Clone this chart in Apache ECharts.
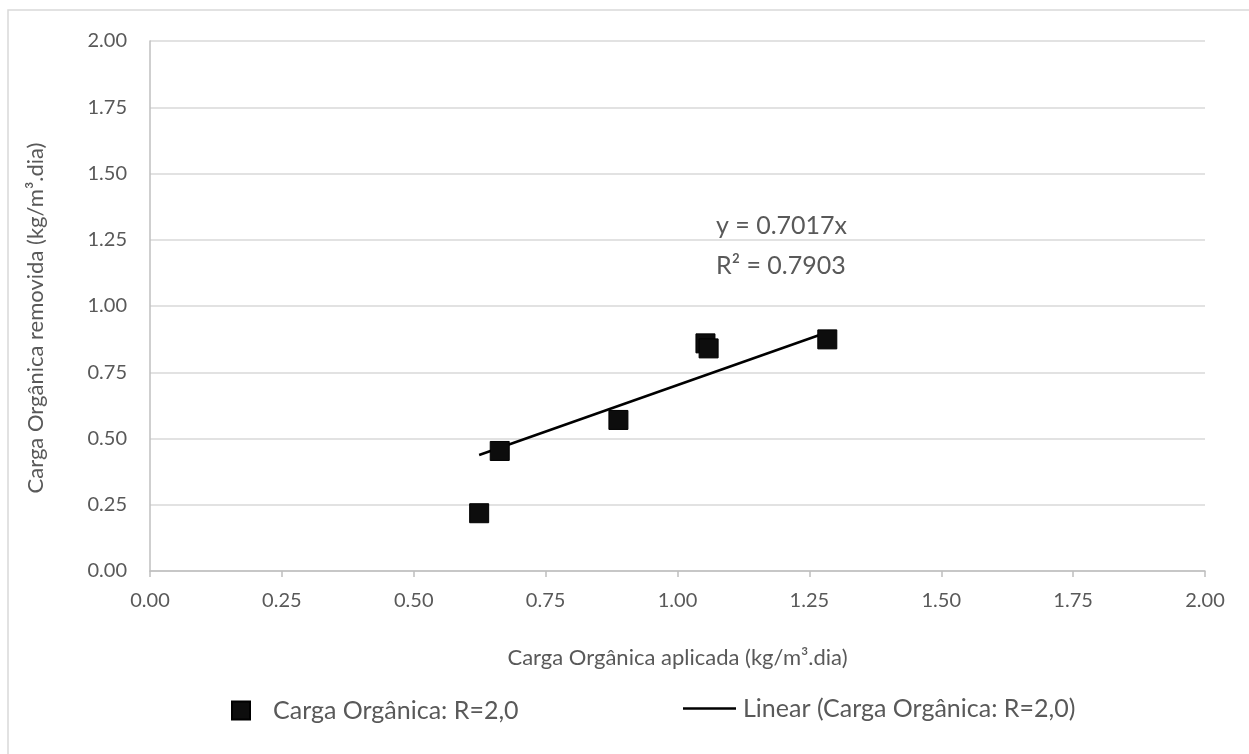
<!DOCTYPE html>
<html>
<head>
<meta charset="utf-8">
<script src="https://cdn.jsdelivr.net/npm/echarts@6/dist/echarts.min.js"></script>
<style>
  html, body { margin: 0; padding: 0; background: #ffffff; }
  #chart { width: 1249px; height: 754px; }
</style>
</head>
<body>
<div id="chart"></div>
<script>
// Applied vs removed organic load, R = 2,0
const appliedLoad = [0.624, 0.663, 0.888, 1.053, 1.059, 1.284];
const removedLoad = [0.218, 0.453, 0.570, 0.859, 0.840, 0.874];
const slope = 0.7017;
const rSquared = 0.7903;
const axisTicks = [0, 0.25, 0.5, 0.75, 1, 1.25, 1.5, 1.75, 2];

const seriesName = 'Carga Orgânica: R=2,0';
const trendName = 'Linear (Carga Orgânica: R=2,0)';

const points = appliedLoad.map((x, i) => [x, removedLoad[i]]);
const xMin = Math.min(...appliedLoad);
const xMax = Math.max(...appliedLoad);
const trend = [[xMin, slope * xMin], [xMax, slope * xMax]];

const FONT = 'Lato, "Open Sans", sans-serif';
const TEXT = '#595959';

const chart = echarts.init(document.getElementById('chart'));
chart.setOption({
  animation: false,
  backgroundColor: '#ffffff',
  grid: { left: 150, right: 44, top: 41, bottom: 183 },
  xAxis: {
    type: 'value',
    min: axisTicks[0],
    max: axisTicks[axisTicks.length - 1],
    interval: 0.25,
    name: 'Carga Orgânica aplicada (kg/m³.dia)',
    nameLocation: 'middle',
    nameGap: 76,
    nameTextStyle: { fontFamily: FONT, fontSize: 22, color: TEXT },
    axisLine: { show: true, lineStyle: { color: '#bfbfbf', width: 1.5 } },
    axisTick: { show: true, length: 6, lineStyle: { color: '#bfbfbf', width: 1.5 } },
    axisLabel: { fontFamily: FONT, fontSize: 20, color: TEXT, margin: 20,
                 formatter: v => v.toFixed(2) },
    splitLine: { show: false }
  },
  yAxis: {
    type: 'value',
    min: axisTicks[0],
    max: axisTicks[axisTicks.length - 1],
    interval: 0.25,
    name: 'Carga Orgânica removida (kg/m³.dia)',
    nameLocation: 'middle',
    nameGap: 103,
    nameTextStyle: { fontFamily: FONT, fontSize: 22, color: TEXT, padding: [0, 24, 0, 0] },
    axisLine: { show: true, lineStyle: { color: '#bfbfbf', width: 1.5 } },
    axisTick: { show: false },
    axisLabel: { fontFamily: FONT, fontSize: 20, color: TEXT, margin: 23,
                 formatter: v => v.toFixed(2) },
    splitLine: { show: true, lineStyle: { color: '#d9d9d9', width: 1.5 } }
  },
  legend: [
    {
      data: [{ name: seriesName, icon: 'rect' }],
      left: 231, top: 698,
      padding: 0,
      itemWidth: 18, itemHeight: 18,
      textStyle: { fontFamily: FONT, fontSize: 25, color: TEXT, padding: [0, 0, 0, 18] }
    },
    {
      data: [{ name: trendName, icon: 'rect', itemStyle: { color: '#000000' } }],
      left: 683, top: 696,
      padding: 0,
      itemWidth: 53, itemHeight: 2.5,
      textStyle: { fontFamily: FONT, fontSize: 25, color: TEXT, padding: [0, 0, 0, 2] }
    }
  ],
  series: [
    {
      name: trendName,
      type: 'line',
      data: trend,
      symbol: 'none',
      lineStyle: { color: '#000000', width: 2.5 },
      itemStyle: { color: '#000000' },
      z: 2
    },
    {
      name: seriesName,
      type: 'scatter',
      data: points,
      symbol: 'rect',
      symbolSize: 19,
      itemStyle: { color: '#0d0d0d', borderColor: '#000000', borderWidth: 1, opacity: 1 },
      z: 3
    }
  ],
  graphic: [
    {
      type: 'rect',
      shape: { x: 8, y: 10, width: 1260, height: 760 },
      style: { fill: 'none', stroke: '#d9d9d9', lineWidth: 1.5 },
      silent: true
    },
    {
      type: 'text',
      left: 716, top: 213,
      style: { text: 'y = 0.7017x', fontFamily: FONT, fontSize: 25, fill: TEXT }
    },
    {
      type: 'text',
      left: 716, top: 253,
      style: { text: 'R² = ' + rSquared.toFixed(4), fontFamily: FONT, fontSize: 25, fill: TEXT }
    }
  ]
});
</script>
</body>
</html>
